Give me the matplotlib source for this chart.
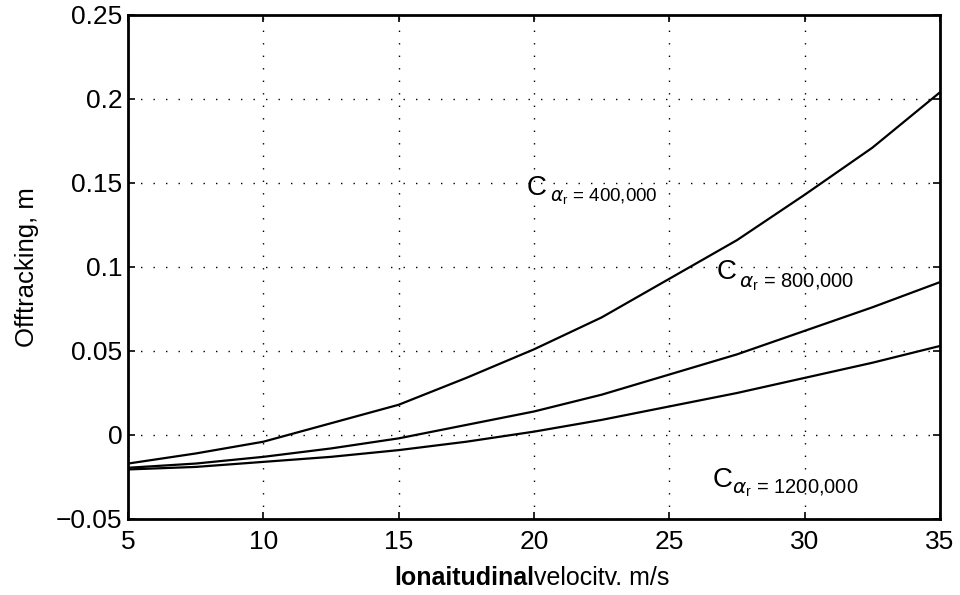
import matplotlib
matplotlib.use("Agg")
import matplotlib.pyplot as plt

# -----------------------------
# Data
# -----------------------------
speed = [5, 7.5, 10, 12.5, 15, 17.5, 20, 22.5, 25, 27.5, 30, 32.5, 35]
off_400k = [-0.017, -0.011, -0.004, 0.007, 0.018, 0.034, 0.051, 0.070, 0.093, 0.116, 0.143, 0.171, 0.204]
off_800k = [-0.0195, -0.017, -0.013, -0.008, -0.002, 0.006, 0.014, 0.024, 0.036, 0.048, 0.062, 0.076, 0.091]
off_1200k = [-0.0205, -0.019, -0.016, -0.013, -0.009, -0.004, 0.002, 0.009, 0.017, 0.025, 0.034, 0.043, 0.053]

x_ticks = [5, 10, 15, 20, 25, 30, 35]
y_ticks = [-0.05, 0, 0.05, 0.1, 0.15, 0.2, 0.25]
y_tick_labels = ["\u22120.05", "0", "0.05", "0.1", "0.15", "0.2", "0.25"]

labels = ["400,000", "800,000", "1200,000"]
label_c_pos = [(19.74, 0.1473), (26.76, 0.097), (26.61, -0.0268)]
label_sub_pos = [(20.59, 0.1417), (27.57, 0.0911), (27.32, -0.0315)]
label_sub_size = [13.5, 14.5, 14.5]

plt.rcParams["font.family"] = ["Liberation Sans", "DejaVu Sans"]

fig = plt.figure(figsize=(9.6, 5.95), dpi=100)
ax = fig.add_axes([128 / 960, 1 - 519 / 595, (940 - 128) / 960, (519 - 15) / 595])

for ys in (off_400k, off_800k, off_1200k):
    ax.plot(speed, ys, color="black", lw=1.6)

ax.set_xlim(5, 35)
ax.set_ylim(-0.05, 0.25)
ax.set_xticks(x_ticks)
ax.set_yticks(y_ticks)
ax.set_yticklabels(y_tick_labels)
ax.grid(True, color="black", lw=1.0, linestyle=(0, (1, 8)))

ax.tick_params(direction="in", length=5, width=1.2, top=True, right=True)
ax.tick_params(axis="y", labelsize=19, pad=4)
ax.tick_params(axis="x", labelsize=19, pad=8)
for sp in ax.spines.values():
    sp.set_linewidth(2.0)

ax.set_ylabel("Offtracking, m", fontsize=18.5, labelpad=12)

# x label: first word in bold, rest normal
ax.text(0.5, -0.117, "lonaitudinal", transform=ax.transAxes, ha="right", va="center",
        fontsize=18, fontweight="bold")
ax.text(0.5, -0.117, "velocitv. m/s", transform=ax.transAxes, ha="left", va="center",
        fontsize=18)

for lab, (cx, cy), (sx, sy), ss in zip(labels, label_c_pos, label_sub_pos, label_sub_size):
    ax.text(cx, cy, "C", fontsize=20, ha="left", va="center")
    ax.text(sx, sy, r"$\alpha_\mathregular{r}$ = " + lab, fontsize=ss, ha="left", va="center")

fig.savefig("out.png", dpi=100)
